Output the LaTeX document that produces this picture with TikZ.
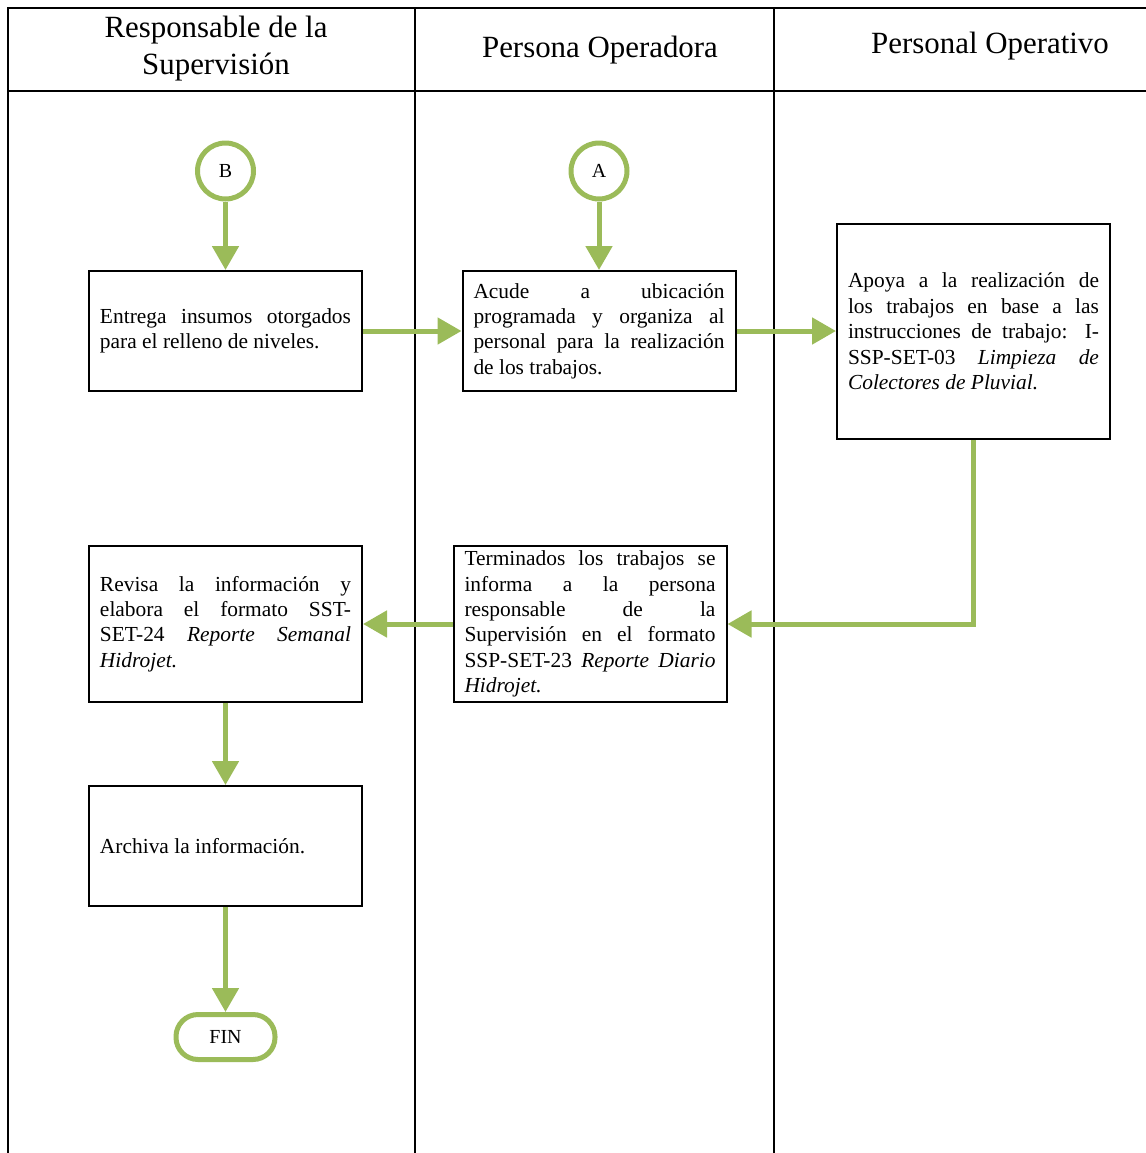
\documentclass[tikz,border=0pt]{standalone}
\usepackage{fontspec}
\setmainfont{Liberation Serif}
\usetikzlibrary{arrows.meta}
\definecolor{olivegreen}{HTML}{9BBB59}
\tikzset{
  lane/.style={line width=1.6bp, black},
  lanehead/.style={font=\fontsize{31}{37}\selectfont, align=center, inner sep=0},
  taskbox/.style={draw, line width=2bp, minimum width=273bp, minimum height=120bp,
    text width=251bp, inner xsep=11bp, align=justify, font=\fontsize{21.5}{25.5}\selectfont},
  connector/.style={draw=olivegreen, line width=5bp, circle, minimum size=56bp,
    inner sep=0, font=\fontsize{20}{24}\selectfont},
  terminal/.style={draw=olivegreen, line width=5bp, rounded corners=22bp,
    minimum width=99bp, minimum height=45bp, font=\fontsize{20}{24}\selectfont},
  flow/.style={olivegreen, line width=5bp, -{Triangle[length=24bp,width=26bp]}}
}
\begin{document}
\begin{tikzpicture}[x=1bp,y=-1bp]
\useasboundingbox (0,0) rectangle (1146,1153);
% carriles
\draw[lane] (8,1153)--(8,8)--(1146,8);
\foreach \x in {415,774} {
  \draw[lane] (\x,8)--(\x,1153);
}
\draw[lane, line width=2.2bp] (8,91)--(1146,91);
\node[lanehead] (h1) at (216,49) {Responsable de la\\Supervisión};
\node[lanehead] (h2) at (600,50) {Persona Operadora};
\node[lanehead] (h3) at (990,46) {Personal Operativo};
% actividades
\node[connector] (B) at (225.5,171) {B};
\node[connector] (A) at (599,171) {A};
\node[taskbox] (entrega) at (225.5,331) {Entrega insumos otorgados\linebreak para el relleno de niveles.};
\node[taskbox] (acude) at (599,331) {Acude a ubicación\linebreak programada y organiza al\linebreak personal para la realización\linebreak de los trabajos.};
\node[taskbox, minimum height=215bp] (apoya) at (973.5,331.5) {Apoya a la realización de\linebreak los trabajos en base a las\linebreak instrucciones de trabajo: I-\linebreak SSP-SET-03 \textit{Limpieza de\linebreak Colectores de Pluvial.}};
\node[taskbox, minimum height=156bp] (termina) at (590,624) {Terminados los trabajos se\linebreak informa a la persona\linebreak responsable de la\linebreak Supervisión en el formato\linebreak SSP-SET-23 \textit{Reporte Diario\linebreak Hidrojet.}};
\node[taskbox, minimum height=156bp] (revisa) at (225.5,624) {Revisa la información y\linebreak elabora el formato SST-\linebreak SET-24 \textit{Reporte Semanal\linebreak Hidrojet.}};
\node[taskbox] (archiva) at (225.5,846) {Archiva la información.};
\node[terminal] (fin) at (225.5,1037) {FIN};
% flujo
\draw[flow] (B)--(entrega);
\draw[flow] (A)--(acude);
\draw[flow] (entrega)--(acude);
\draw[flow] (acude)--(apoya.west |- acude);
\draw[flow] (apoya.south)|-(termina.east);
\draw[flow] (termina)--(revisa);
\draw[flow] (revisa)--(archiva);
\draw[flow] (archiva)--(fin);
\end{tikzpicture}
\end{document}
